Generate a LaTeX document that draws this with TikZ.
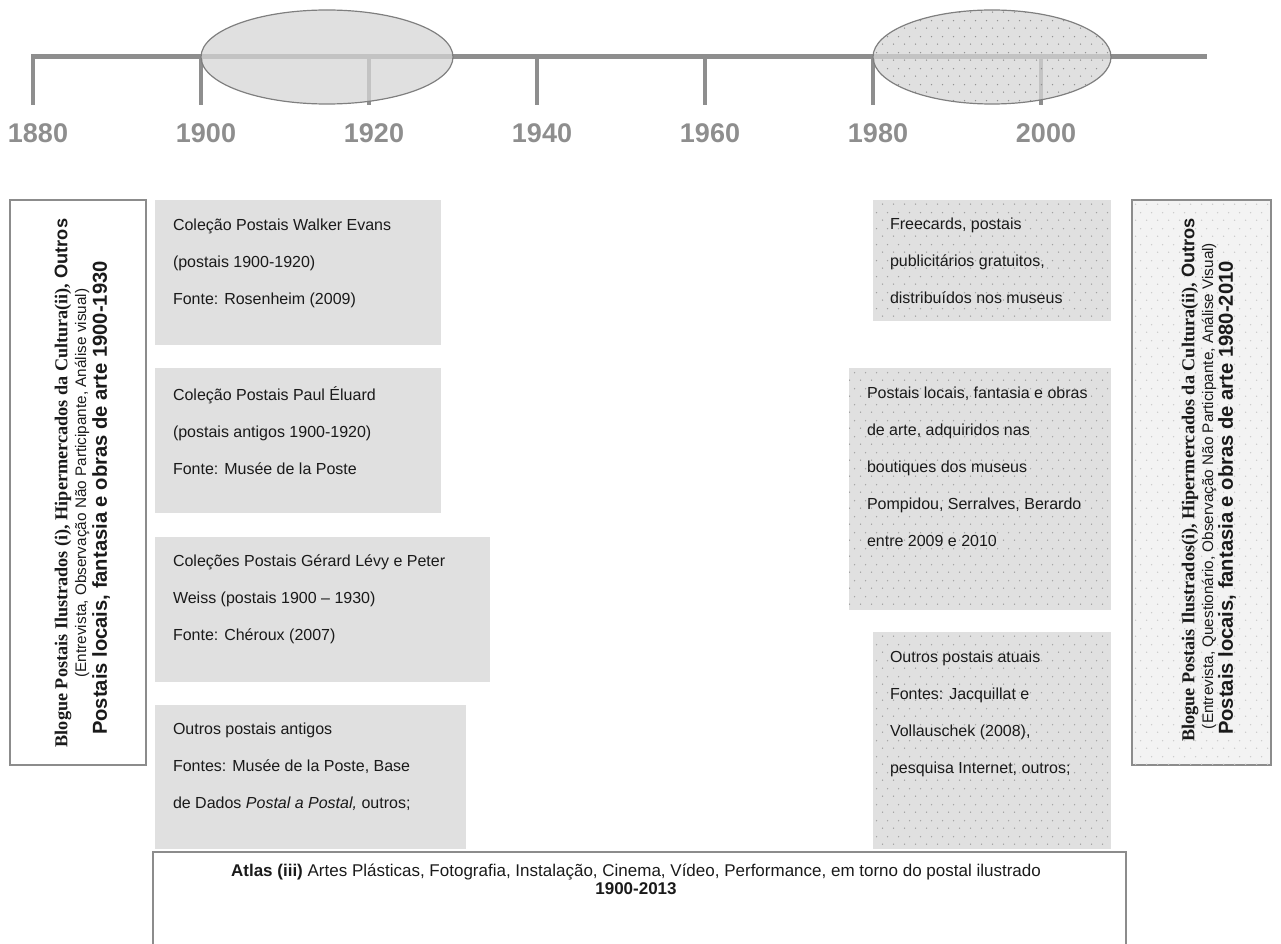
\documentclass[tikz,border=0pt]{standalone}
\usepackage{fontspec}
\setmainfont{Liberation Sans}
\newfontfamily\serifb{Liberation Serif}
\usetikzlibrary{shapes.geometric,patterns,calc}
\definecolor{tl}{HTML}{8E8E8E}
\definecolor{boxg}{HTML}{E0E0E0}
\definecolor{ellg}{HTML}{D6D6D6}
\definecolor{edge}{HTML}{7F7F7F}
\definecolor{dotg}{HTML}{A0A0A0}
\definecolor{dotd}{HTML}{7A7A7A}
\definecolor{sideb}{HTML}{8C8C8C}
\definecolor{lightb}{HTML}{F3F3F3}
\definecolor{dotl}{HTML}{CACACA}
\definecolor{txt}{HTML}{1A1A1A}
\pgfdeclarepatternformonly{mydots}{\pgfqpoint{0pt}{0pt}}{\pgfqpoint{11pt}{16pt}}{\pgfqpoint{11pt}{16pt}}{%
  \pgfpathcircle{\pgfqpoint{2.75pt}{4pt}}{0.8pt}%
  \pgfpathcircle{\pgfqpoint{8.25pt}{12pt}}{0.8pt}%
  \pgfusepath{fill}}
\tikzset{
  tlline/.style={draw=tl, line width=5pt},
  tick/.style={draw=tl, line width=4.5pt},
  yearlbl/.style={text=tl, font=\fontsize{27}{27}\selectfont\bfseries, inner sep=0},
  ellbase/.style={ellipse, minimum height=94pt, draw=edge, line width=1.2pt, inner sep=0},
  graybox/.style={rectangle, fill=boxg, draw=none, inner sep=0},
  dotbox/.style={rectangle, fill=boxg, draw=none, inner sep=0, postaction={pattern=mydots, pattern color=dotg}},
  sidebox/.style={rectangle, draw=sideb, line width=1.5pt, inner sep=0},
  boxtext/.style={anchor=north west, inner sep=0, align=left, text=txt, font=\fontsize{16}{37}\selectfont},
  vtext/.style={rotate=90, inner sep=0, anchor=center, text=txt},
}
\begin{document}
\begin{tikzpicture}[x=1pt,y=-1pt]
\useasboundingbox (0,0) rectangle (1281,944);
% timeline
\coordinate (ls) at (31,57);
\coordinate (le) at (1207,57);
\draw[tlline] (ls) -- (le);
\foreach \i/\yr in {0/1880,1/1900,2/1920,3/1940,4/1960,5/1980,6/2000}{
  \coordinate (tk\i) at ({33+168*\i},57);
  \coordinate (tb\i) at ({33+168*\i},105);
  \draw[tick] (tk\i) -- (tb\i);
  \node[yearlbl] (yl\i) at ({38+168*\i},133) {\yr};
}
\node[ellbase, minimum width=252pt, fill=ellg, fill opacity=0.75] (e1) at (327,57) {};
\node[ellbase, minimum width=238pt, fill=ellg, fill opacity=0.75, postaction={pattern=mydots, pattern color=dotd}] (e2) at (992,57) {};

% left side box
\node[sidebox, minimum width=136pt, minimum height=565pt] (L) at (78,482.5) {};
\node[vtext, font=\fontsize{18.2}{18}\selectfont] (L1) at (63,483) {{\serifb\bfseries Blogue Postais Ilustrados (i), Hipermercados da Cultura(ii),} \textbf{Outros}};
\node[vtext, font=\fontsize{15.3}{15}\selectfont] (L2) at (82,483) {(Entrevista, Observação Não Participante, Análise visual)};
\node[vtext, font=\fontsize{20.2}{20}\selectfont\bfseries] (L3) at (101,498) {Postais locais, fantasia e obras de arte 1900-1930};

% right side box
\node[sidebox, fill=lightb, minimum width=139pt, minimum height=565pt, postaction={pattern=mydots, pattern color=dotl}] (R) at (1201.5,482.5) {};
\node[vtext, font=\fontsize{18.2}{18}\selectfont] (R1) at (1190,480) {{\serifb\bfseries Blogue Postais Ilustrados(i), Hipermercados da Cultura(ii),} \textbf{Outros}};
\node[vtext, font=\fontsize{15.3}{15}\selectfont] (R2) at (1209,486) {(Entrevista, Questionário, Observação Não Participante, Análise Visual)};
\node[vtext, font=\fontsize{20.2}{20}\selectfont\bfseries] (R3) at (1227,498) {Postais locais, fantasia e obras de arte 1980-2010};

% gray boxes (left column)
\node[graybox, minimum width=286pt, minimum height=145pt] (g1) at (298,272.5) {};
\node[graybox, minimum width=286pt, minimum height=145pt] (g2) at (298,440.5) {};
\node[graybox, minimum width=335pt, minimum height=145pt] (g3) at (322.5,609.5) {};
\node[graybox, minimum width=311pt, minimum height=144pt] (g4) at (310.5,777) {};
\node[boxtext] (g1t) at ($(g1.north west)+(18,19)$) {Coleção Postais Walker Evans\\(postais 1900-1920)\\Fonte: Rosenheim (2009)};
\node[boxtext] (g2t) at ($(g2.north west)+(18,19)$) {Coleção Postais Paul Éluard\\(postais antigos 1900-1920)\\Fonte: Musée de la Poste};
\node[boxtext] (g3t) at ($(g3.north west)+(18,18)$) {Coleções Postais Gérard Lévy e Peter\\Weiss (postais 1900 – 1930)\\Fonte: Chéroux (2007)};
\node[boxtext] (g4t) at ($(g4.north west)+(18,18)$) {Outros postais antigos\\Fontes: Musée de la Poste, Base\\de Dados \textit{Postal a Postal,} outros;};

% dotted boxes (right column)
\node[dotbox, minimum width=238pt, minimum height=121pt] (d1) at (992,260.5) {};
\node[dotbox, minimum width=262pt, minimum height=242pt] (d2) at (980,489) {};
\node[dotbox, minimum width=238pt, minimum height=217pt] (d3) at (992,740.5) {};
\node[boxtext] (d1t) at ($(d1.north west)+(17,18)$) {Freecards, postais\\publicitários gratuitos,\\distribuídos nos museus};
\node[boxtext] (d2t) at ($(d2.north west)+(18,19)$) {Postais locais, fantasia e obras\\de arte, adquiridos nas\\boutiques dos museus\\Pompidou, Serralves, Berardo\\entre 2009 e 2010};
\node[boxtext] (d3t) at ($(d3.north west)+(17,19)$) {Outros postais atuais\\Fontes: Jacquillat e\\Vollauschek (2008),\\pesquisa Internet, outros;};

% bottom box
\node[sidebox, minimum width=973pt, minimum height=100pt] (B) at (639.5,902) {};
\node[inner sep=0, align=center, text=txt, font=\fontsize{17}{18}\selectfont] (Bt) at (636,879) {\textbf{Atlas (iii)} Artes Plásticas, Fotografia, Instalação, Cinema, Vídeo, Performance, em torno do postal ilustrado\\\textbf{1900-2013}};
\end{tikzpicture}
\end{document}
